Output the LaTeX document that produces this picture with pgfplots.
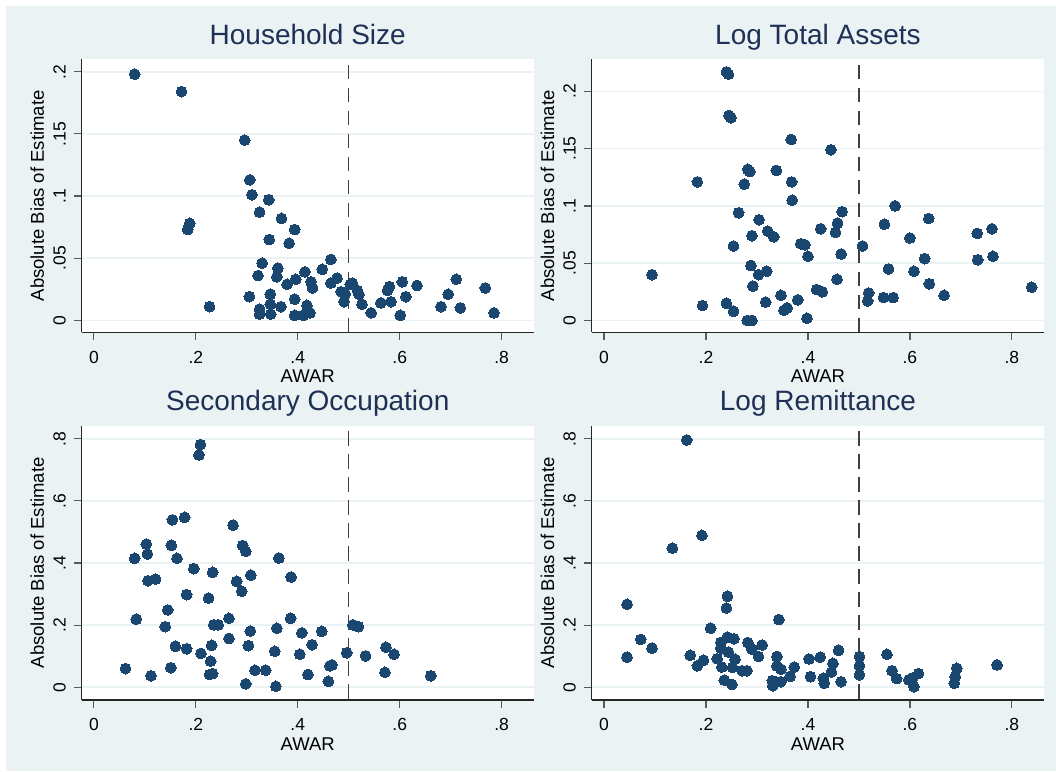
\documentclass[border=0pt]{standalone}
\usepackage{fontspec}
\setmainfont{Liberation Sans}
\usepackage{pgfplots}
\pgfplotsset{compat=1.18}
\definecolor{bg}{RGB}{234,242,243}
\definecolor{navy}{RGB}{26,71,111}
\definecolor{ttl}{RGB}{30,48,85}
\pgfplotsset{
  panel/.style={
    scale only axis, anchor=south west, clip=false,
    width=452.5pt,
    xmin=-0.0243, xmax=0.8635,
    axis x line*=bottom, axis y line*=left,
    axis line style={-, black!85, line width=1.2pt},
    every outer x axis line/.append style={-},
    every outer y axis line/.append style={-},
    tick align=outside, major tick length=8pt,
    tick style={black!65, line width=1.2pt},
    xtick={0,0.2,0.4,0.6,0.8}, xticklabels={0,.2,.4,.6,.8},
    ymajorgrids, grid style={bg, line width=1.6pt},
    /pgf/number format/assume math mode=true,
    tick label style={font=\fontsize{17.5}{20}\selectfont, inner sep=0pt},
    xticklabel style={anchor=north},
    yticklabel style={rotate=90, anchor=base},
    xticklabel shift=10.5pt, yticklabel shift=8pt,
    xlabel={AWAR}, ylabel={Absolute Bias of Estimate},
    label style={font=\fontsize{18.5}{22}\selectfont, inner sep=0pt},
    xlabel style={at={(axis description cs:0.5,-0.183)}, anchor=base},
    ylabel style={at={(axis description cs:-0.0829,0.5)}, rotate=0, anchor=base},
    title style={at={(axis description cs:0.5,1.034)}, anchor=base, inner sep=0pt,
      font=\fontsize{28}{32}\selectfont, text=ttl},
    axis background/.style={fill=white},
  },
  dots/.style={only marks, mark=*, mark size=5.4pt, mark options={fill=navy, draw=navy, line width=0pt}},
  vref/.style={no marks, line width=1.2pt, black!75, dash pattern=on 14.5pt off 8.5pt, dash phase=17.3pt},
}
\begin{document}
\begin{tikzpicture}[x=1pt,y=1pt]
\useasboundingbox (0,0) rectangle (1056,771);
\fill[white] (0,0) rectangle (1056,771);
\fill[bg] (6,0) rectangle (1056,765);

% Panel 1: Household Size
\begin{axis}[panel, at={(81.5pt,438.5pt)}, height=273.2pt,
  ymin=-0.0098, ymax=0.21,
  ytick={0,0.05,0.1,0.15,0.2}, yticklabels={0,.05,.1,.15,.2},
  title={Household Size}]
\addplot[vref] coordinates {(0.5,0.21) (0.5,-0.0098)};
\addplot[dots] coordinates {
(0.080,0.198) (0.172,0.184) (0.296,0.145) (0.306,0.113) (0.310,0.101)
(0.343,0.097) (0.325,0.087) (0.368,0.082) (0.394,0.073) (0.188,0.078)
(0.184,0.073) (0.344,0.065) (0.383,0.062) (0.465,0.049) (0.330,0.046)
(0.361,0.042) (0.448,0.041) (0.414,0.039) (0.322,0.036) (0.359,0.035)
(0.396,0.033) (0.477,0.034) (0.426,0.031) (0.503,0.029) (0.465,0.030)
(0.379,0.029) (0.429,0.026) (0.517,0.024) (0.605,0.031) (0.634,0.028)
(0.711,0.033) (0.768,0.026) (0.580,0.027) (0.576,0.024) (0.695,0.021)
(0.612,0.019) (0.520,0.021) (0.485,0.023) (0.493,0.021) (0.346,0.021)
(0.305,0.019) (0.394,0.017) (0.491,0.015) (0.526,0.013) (0.563,0.014)
(0.583,0.015) (0.346,0.013) (0.367,0.011) (0.418,0.012) (0.227,0.011)
(0.325,0.009) (0.681,0.011) (0.719,0.010) (0.544,0.006) (0.601,0.004)
(0.785,0.006) (0.325,0.005) (0.347,0.005) (0.394,0.004) (0.411,0.004)
(0.424,0.006) (0.419,0.008) (0.507,0.030)
};
\end{axis}

% Panel 2: Log Total Assets
\begin{axis}[panel, at={(591.7pt,438.5pt)}, height=273.2pt,
  ymin=-0.0105, ymax=0.228,
  ytick={0,0.05,0.1,0.15,0.2}, yticklabels={0,.05,.1,.15,.2},
  title={Log Total Assets}]
\addplot[vref] coordinates {(0.5,0.228) (0.5,-0.0105)};
\addplot[dots] coordinates {
(0.240,0.217) (0.244,0.215) (0.245,0.179) (0.249,0.177) (0.367,0.158)
(0.445,0.149) (0.183,0.121) (0.282,0.132) (0.286,0.130) (0.338,0.131)
(0.275,0.119) (0.368,0.121) (0.369,0.105) (0.571,0.100) (0.264,0.094)
(0.467,0.095) (0.637,0.089) (0.304,0.088) (0.458,0.085) (0.550,0.084)
(0.425,0.080) (0.761,0.080) (0.321,0.078) (0.454,0.077) (0.732,0.076)
(0.290,0.074) (0.333,0.073) (0.600,0.072) (0.386,0.067) (0.394,0.066)
(0.254,0.065) (0.507,0.065) (0.465,0.058) (0.400,0.056) (0.763,0.056)
(0.629,0.054) (0.733,0.053) (0.288,0.048) (0.558,0.045) (0.608,0.043)
(0.319,0.043) (0.303,0.040) (0.094,0.040) (0.457,0.036) (0.638,0.032)
(0.292,0.030) (0.839,0.029) (0.417,0.027) (0.428,0.025) (0.519,0.024)
(0.667,0.022) (0.347,0.022) (0.548,0.020) (0.567,0.020) (0.380,0.018)
(0.517,0.017) (0.317,0.016) (0.240,0.015) (0.193,0.013) (0.359,0.011)
(0.353,0.009) (0.254,0.008) (0.398,0.002) (0.281,0.000) (0.290,0.000)
};
\end{axis}

% Panel 3: Secondary Occupation
\begin{axis}[panel, at={(81.5pt,71pt)}, height=274.3pt,
  ymin=-0.041, ymax=0.842,
  ytick={0,0.2,0.4,0.6,0.8}, yticklabels={0,.2,.4,.6,.8},
  title={Secondary Occupation}]
\addplot[vref] coordinates {(0.5,0.842) (0.5,-0.041)};
\addplot[dots] coordinates {
(0.209,0.781) (0.206,0.748) (0.178,0.547) (0.154,0.539) (0.273,0.522)
(0.103,0.461) (0.152,0.457) (0.292,0.456) (0.298,0.438) (0.105,0.429)
(0.080,0.415) (0.163,0.415) (0.363,0.416) (0.196,0.382) (0.233,0.370)
(0.308,0.361) (0.387,0.355) (0.121,0.348) (0.106,0.343) (0.280,0.341)
(0.290,0.309) (0.182,0.298) (0.225,0.287) (0.145,0.249) (0.083,0.219)
(0.265,0.222) (0.386,0.222) (0.140,0.195) (0.235,0.201) (0.244,0.201)
(0.508,0.201) (0.519,0.195) (0.359,0.190) (0.307,0.181) (0.447,0.180)
(0.408,0.175) (0.428,0.137) (0.160,0.132) (0.231,0.135) (0.303,0.134)
(0.573,0.129) (0.182,0.124) (0.265,0.157) (0.210,0.109) (0.355,0.116)
(0.404,0.106) (0.496,0.111) (0.589,0.106) (0.533,0.101) (0.229,0.084)
(0.467,0.072) (0.463,0.069) (0.062,0.060) (0.151,0.063) (0.316,0.055)
(0.337,0.055) (0.571,0.048) (0.420,0.041) (0.227,0.041) (0.233,0.044)
(0.112,0.037) (0.661,0.037) (0.460,0.019) (0.298,0.011) (0.357,0.003)
};
\end{axis}

% Panel 4: Log Remittance
\begin{axis}[panel, at={(591.7pt,71pt)}, height=274.3pt,
  ymin=-0.041, ymax=0.842,
  ytick={0,0.2,0.4,0.6,0.8}, yticklabels={0,.2,.4,.6,.8},
  title={Log Remittance}]
\addplot[vref] coordinates {(0.5,0.842) (0.5,-0.041)};
\addplot[dots] coordinates {
(0.162,0.796) (0.192,0.489) (0.134,0.448) (0.045,0.267) (0.242,0.293)
(0.240,0.255) (0.343,0.218) (0.209,0.190) (0.072,0.154) (0.094,0.126)
(0.045,0.097) (0.169,0.103) (0.242,0.161) (0.255,0.156) (0.229,0.144)
(0.282,0.144) (0.310,0.136) (0.229,0.126) (0.290,0.123) (0.244,0.113)
(0.460,0.119) (0.555,0.106) (0.339,0.099) (0.303,0.099) (0.424,0.097)
(0.402,0.091) (0.501,0.099) (0.222,0.092) (0.257,0.090) (0.195,0.087)
(0.449,0.077) (0.771,0.072) (0.183,0.069) (0.339,0.069) (0.501,0.069)
(0.373,0.065) (0.231,0.065) (0.252,0.064) (0.692,0.061) (0.347,0.058)
(0.271,0.053) (0.280,0.053) (0.565,0.053) (0.446,0.049) (0.617,0.044)
(0.501,0.040) (0.405,0.034) (0.365,0.035) (0.689,0.034) (0.574,0.028)
(0.430,0.029) (0.236,0.023) (0.330,0.021) (0.598,0.024) (0.605,0.030)
(0.347,0.018) (0.465,0.018) (0.687,0.013) (0.432,0.013) (0.251,0.009)
(0.331,0.005) (0.608,0.002)
};
\end{axis}
\end{tikzpicture}
\end{document}
